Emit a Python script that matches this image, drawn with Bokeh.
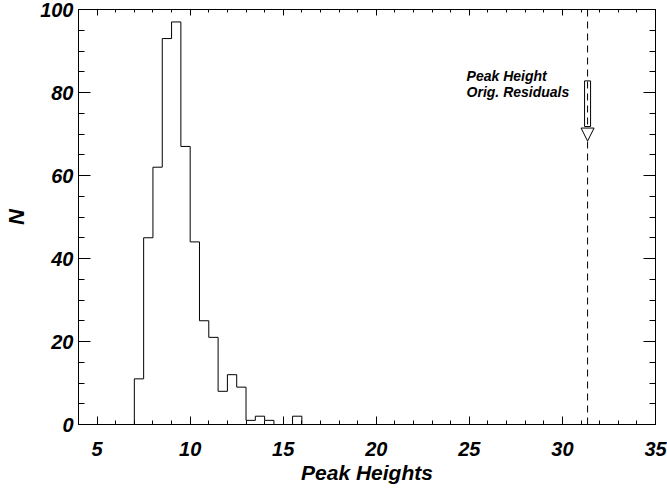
from bokeh.plotting import figure
from bokeh.models import (LinearAxis, Range1d, Label, Arrow, NormalHead, FixedTicker,
                          CustomLabelingPolicy)
from bokeh.embed import file_html
from bokeh.resources import INLINE

# ---- data ----
bin_left = [7.0, 7.5, 8.0, 8.5, 9.0, 9.5, 10.0, 10.5, 11.0, 11.5, 12.0, 12.5,
            13.0, 13.5, 14.0, 14.5, 15.0, 15.5, 16.0]
bin_width = 0.5
counts = [11, 45, 62, 93, 97, 67, 44, 25, 21, 8, 12, 9, 1, 2, 1, 0, 0, 2, 0]

orig_peak = 31.35            # peak height of original residuals (dashed line)
arrow_top, arrow_base, arrow_tip = 82.8, 71.8, 68.3

x_major = [5, 10, 15, 20, 25, 30, 35]
x_minor = list(range(4, 36))
y_major = [0, 20, 40, 60, 80, 100]
y_minor = list(range(0, 101, 5))

FONT = "Liberation Sans"

p = figure(width=667, height=491, x_range=Range1d(4, 35), y_range=Range1d(0, 100),
           output_backend="svg", toolbar_location=None,
           x_axis_location=None, y_axis_location=None,
           min_border_left=78, min_border_right=12, min_border_top=9, min_border_bottom=67)
p.grid.visible = False
p.outline_line_color = "black"
p.outline_line_width = 1
p.background_fill_color = "white"
p.border_fill_color = "white"


def make_axis(ticks, minor, tin, tmin, labels=True):
    ax = LinearAxis(ticker=FixedTicker(ticks=ticks, minor_ticks=minor))
    ax.major_tick_in = tin
    ax.major_tick_out = 0
    ax.minor_tick_in = tmin
    ax.minor_tick_out = 0
    ax.axis_line_color = "black"
    ax.major_tick_line_color = "black"
    ax.minor_tick_line_color = "black"
    if labels:
        ax.major_label_text_font = FONT
        ax.major_label_text_font_style = "bold italic"
        ax.major_label_text_font_size = "20px"
        ax.major_label_text_color = "black"
    else:
        ax.major_label_overrides = {t: "" for t in ticks}
        ax.major_label_policy = CustomLabelingPolicy(code="return new Set()")
        ax.major_label_standoff = 0
    return ax


xb = make_axis(x_major, x_minor, 8, 4)
xb.axis_label = "Peak Heights"
xb.axis_label_text_font = FONT
xb.axis_label_text_font_style = "bold italic"
xb.axis_label_text_font_size = "21px"
xb.axis_label_text_color = "black"
xb.major_label_standoff = 17
xb.axis_label_standoff = 2
p.add_layout(xb, "below")

yl = make_axis(y_major, y_minor, 12, 6)
yl.axis_label = "N"
yl.axis_label_text_font = FONT
yl.axis_label_text_font_style = "bold italic"
yl.axis_label_text_font_size = "22px"
yl.axis_label_text_color = "black"
yl.major_label_standoff = 5
yl.axis_label_standoff = 8
p.add_layout(yl, "left")

p.add_layout(make_axis(x_major, x_minor, 6, 3, labels=False), "above")
p.add_layout(make_axis(y_major, y_minor, 12, 6, labels=False), "right")

# histogram outline (step)
xs = [bin_left[0]]
ys = [0]
for lo, c in zip(bin_left, counts):
    xs += [lo, lo + bin_width]
    ys += [c, c]
xs.append(bin_left[-1] + bin_width)
ys.append(0)
p.line(xs, ys, line_color="black", line_width=1)

# dashed vertical line for the original residual peak height
p.line([orig_peak, orig_peak], [0, 100], line_color="black", line_width=1, line_dash="7 5")

# hollow arrow
p.rect(x=[orig_peak], y=[(arrow_top + arrow_base) / 2], width=6, width_units="screen",
       height=arrow_top - arrow_base, fill_color=None, line_color="black", line_width=1)
p.add_layout(Arrow(end=NormalHead(size=13, fill_color="white", line_color="black", line_width=1),
                   x_start=orig_peak, y_start=arrow_base, x_end=orig_peak, y_end=arrow_tip,
                   line_alpha=0))

for txt, yy in [("Peak Height", 84.0), ("Orig. Residuals", 80.1)]:
    p.add_layout(Label(x=24.85, y=yy, text=txt, text_font=FONT, text_font_style="bold italic",
                       text_font_size="14px", text_color="black", text_baseline="middle",
                       text_align="left"))

open("out.html", "w").write(file_html(p, INLINE))
